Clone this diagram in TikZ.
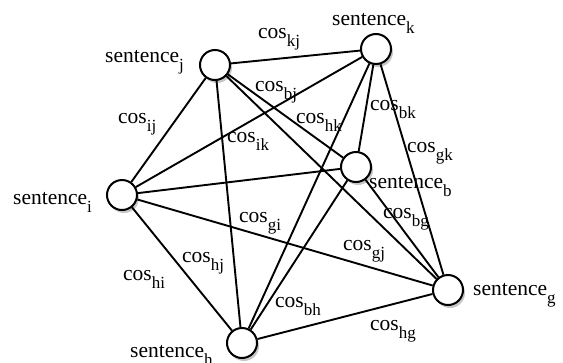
\documentclass[tikz,border=0pt]{standalone}
\usepackage{fontspec}
\setmainfont{Liberation Serif}
\newfontfamily\timesfam{Liberation Serif}
\usepackage{tikz}
\usetikzlibrary{shadows}
\newcommand{\lowidx}[1]{\raisebox{-8pt}{\fontsize{17}{19}\selectfont #1}}

\begin{document}
\begin{tikzpicture}[x=1pt, y=-1pt,
    sent/.style={draw, circle, fill=white, minimum size=30pt, inner sep=0pt, line width=2pt,
      drop shadow={opacity=0.45, shadow xshift=2pt, shadow yshift=-3pt}},
    link/.style={draw, line width=1.9pt},
    lbl/.style={anchor=base west, inner sep=0pt, font=\timesfam\fontsize{21.5}{24}\selectfont}]
    \useasboundingbox (0,0) rectangle (563,362);
    % sentences
    \node[sent] (Sj) at (215,65) {};
    \node[sent] (Sk) at (376,49) {};
    \node[sent] (Si) at (122,195) {};
    \node[sent] (Sb) at (356,167) {};
    \node[sent] (Sh) at (242,343) {};
    \node[sent] (Sg) at (448,290) {};
    \node[lbl] (Lj) at (105,62) {sentence\lowidx{j}};
    \node[lbl] (Lk) at (332,25) {sentence\lowidx{k}};
    \node[lbl] (Li) at (13,204) {sentence\lowidx{i}};
    \node[lbl] (Lb) at (369,188) {sentence\lowidx{b}};
    \node[lbl] (Lh) at (130,357) {sentence\lowidx{h}};
    \node[lbl] (Lg) at (473,295) {sentence\lowidx{g}};
    % links
    \path[link] (Sj)--(Sk);
    \path[link] (Sj)--(Si);
    \path[link] (Sj)--(Sh);
    \path[link] (Sj)--(Sb);
    \path[link] (Sj)--(Sg);
    \path[link] (Sk)--(Si);
    \path[link] (Sk)--(Sh);
    \path[link] (Sk)--(Sb);
    \path[link] (Sk)--(Sg);
    \path[link] (Si)--(Sb);
    \path[link] (Si)--(Sg);
    \path[link] (Si)--(Sh);
    \path[link] (Sb)--(Sh);
    \path[link] (Sb)--(Sg);
    \path[link] (Sh)--(Sg);
    % cosines
    \node[lbl] (kj) at (258,38) {cos\lowidx{kj}};
    \node[lbl] (bj) at (255,91) {cos\lowidx{bj}};
    \node[lbl] (ij) at (118,123) {cos\lowidx{ij}};
    \node[lbl] (ik) at (227,142) {cos\lowidx{ik}};
    \node[lbl] (hk) at (296,123) {cos\lowidx{hk}};
    \node[lbl] (bk) at (370,110) {cos\lowidx{bk}};
    \node[lbl] (gk) at (407,152) {cos\lowidx{gk}};
    \node[lbl] (gi) at (239,222) {cos\lowidx{gi}};
    \node[lbl] (hj) at (182,262) {cos\lowidx{hj}};
    \node[lbl] (hi) at (123,280) {cos\lowidx{hi}};
    \node[lbl] (bg) at (383,218) {cos\lowidx{bg}};
    \node[lbl] (gj) at (343,250) {cos\lowidx{gj}};
    \node[lbl] (bh) at (275,307) {cos\lowidx{bh}};
    \node[lbl] (hg) at (370,330) {cos\lowidx{hg}};
\end{tikzpicture}
\end{document}
